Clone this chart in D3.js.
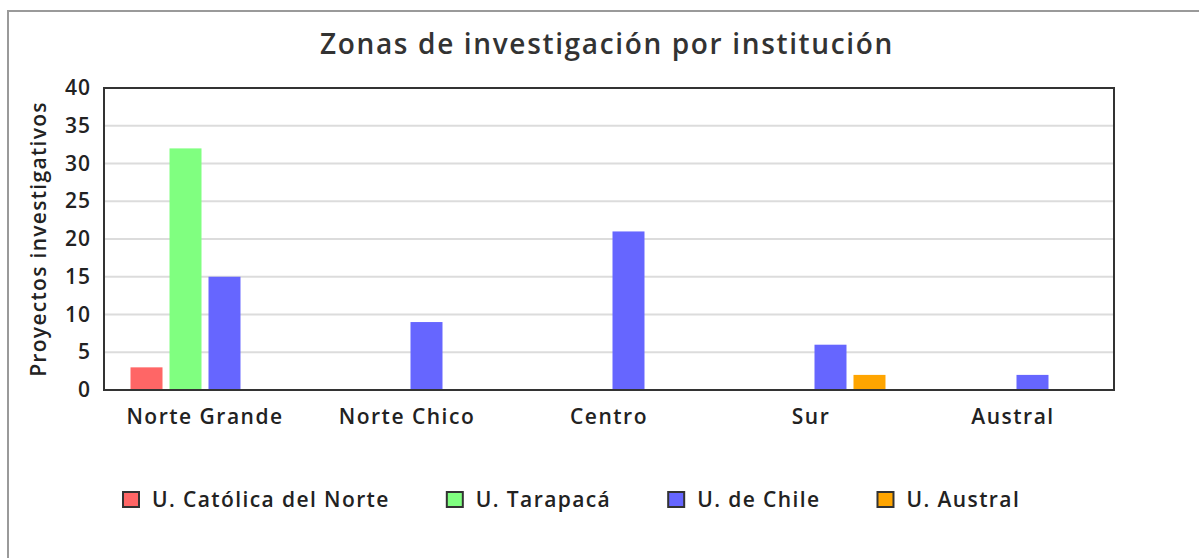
<!DOCTYPE html>
<html>
<head>
<meta charset="utf-8">
<script src="https://cdn.jsdelivr.net/npm/d3@7"></script>
<style>
  html, body { margin: 0; padding: 0; background: #fff; }
  svg { display: block; font-family: "Open Sans", "Noto Sans", sans-serif; }
</style>
</head>
<body>
<svg id="chart" width="1199" height="558"></svg>
<script>
const categories = ["Norte Grande", "Norte Chico", "Centro", "Sur", "Austral"];
const seriesNames = ["U. Católica del Norte", "U. Tarapacá", "U. de Chile", "U. Austral"];
const seriesColors = ["#ff6666", "#80ff80", "#6666ff", "#ffa500"];
const valuesCatolica = [3, 0, 0, 0, 0];
const valuesTarapaca = [32, 0, 0, 0, 0];
const valuesChile = [15, 9, 21, 6, 2];
const valuesAustral = [0, 0, 0, 2, 0];
const yTicks = [0, 5, 10, 15, 20, 25, 30, 35, 40];
const titleText = "Zonas de investigación por institución";
const yTitle = "Proyectos investigativos";

const seriesValues = [valuesCatolica, valuesTarapaca, valuesChile, valuesAustral];

const svg = d3.select("#chart");
const plot = { left: 104, right: 1114, top: 88, bottom: 390 };
const textColor = "#222";
const fw = 600;

// outer border
svg.append("rect")
  .attr("x", 8).attr("y", 11).attr("width", 1400).attr("height", 1000)
  .attr("fill", "none").attr("stroke", "#9a9a9a").attr("stroke-width", 2);

// title
svg.append("text")
  .attr("x", (plot.left + plot.right) / 2 - 2).attr("y", 54)
  .attr("text-anchor", "middle")
  .attr("font-size", 28).attr("font-weight", fw)
  .attr("letter-spacing", 1.65).attr("fill", "#333")
  .text(titleText);

const x0 = d3.scaleBand().domain(categories).range([plot.left, plot.right]).padding(0);
const x1 = d3.scaleBand().domain(seriesNames).range([0, x0.bandwidth()])
  .paddingInner(7 / 39).paddingOuter(0.68);
const y = d3.scaleLinear().domain([0, 40]).range([plot.bottom, plot.top]);

// grid
svg.append("g").selectAll("line").data(yTicks.filter(d => d > 0 && d < 40)).join("line")
  .attr("x1", plot.left).attr("x2", plot.right)
  .attr("y1", d => y(d)).attr("y2", d => y(d))
  .attr("stroke", "#dcdcdc").attr("stroke-width", 2);

// bars
const flat = [];
categories.forEach((c, i) => seriesNames.forEach((s, j) => {
  if (seriesValues[j][i] > 0) flat.push({ c, s, j, v: seriesValues[j][i] });
}));
svg.append("g").selectAll("rect").data(flat).join("rect")
  .attr("x", d => x0(d.c) + x1(d.s))
  .attr("width", x1.bandwidth())
  .attr("y", d => y(d.v))
  .attr("height", d => y(0) - y(d.v))
  .attr("fill", d => seriesColors[d.j]);

// plot frame
svg.append("rect")
  .attr("x", plot.left).attr("y", plot.top)
  .attr("width", plot.right - plot.left).attr("height", plot.bottom - plot.top)
  .attr("fill", "none").attr("stroke", "#333").attr("stroke-width", 2);

// y axis
const yAxis = d3.axisLeft(y).tickValues(yTicks).tickSize(0).tickPadding(0);
const gy = svg.append("g").attr("transform", `translate(${plot.left - 13},0)`).call(yAxis);
gy.select(".domain").remove();
gy.selectAll("text").attr("font-size", 21).attr("font-weight", fw)
  .attr("letter-spacing", 1).attr("fill", textColor)
  .attr("font-family", "'Open Sans', sans-serif");

// x axis
const xAxis = d3.axisBottom(x0).tickSize(0).tickPadding(0);
const gx = svg.append("g").attr("transform", `translate(0,${plot.bottom + 19})`).call(xAxis);
gx.select(".domain").remove();
gx.selectAll("text").attr("font-size", 21).attr("font-weight", fw)
  .attr("letter-spacing", 1.5).attr("fill", textColor)
  .attr("font-family", "'Open Sans', sans-serif");

// y title
svg.append("text")
  .attr("transform", `translate(46,${(plot.top + plot.bottom) / 2}) rotate(-90)`)
  .attr("text-anchor", "middle")
  .attr("font-size", 21).attr("font-weight", fw)
  .attr("letter-spacing", 1.3).attr("fill", textColor)
  .text(yTitle);

// legend
const legend = svg.append("g");
let lx = 122;
seriesNames.forEach((s, j) => {
  legend.append("rect")
    .attr("x", lx + 1).attr("y", 492).attr("width", 16).attr("height", 15)
    .attr("fill", seriesColors[j]).attr("stroke", "#333").attr("stroke-width", 2);
  const t = legend.append("text")
    .attr("x", lx + 30).attr("y", 507)
    .attr("font-size", 21).attr("font-weight", fw)
    .attr("letter-spacing", 1.4).attr("fill", textColor)
    .text(s);
  const w = t.node().getComputedTextLength();
  lx = lx + 30 + w + 56;
});
</script>
</body>
</html>
